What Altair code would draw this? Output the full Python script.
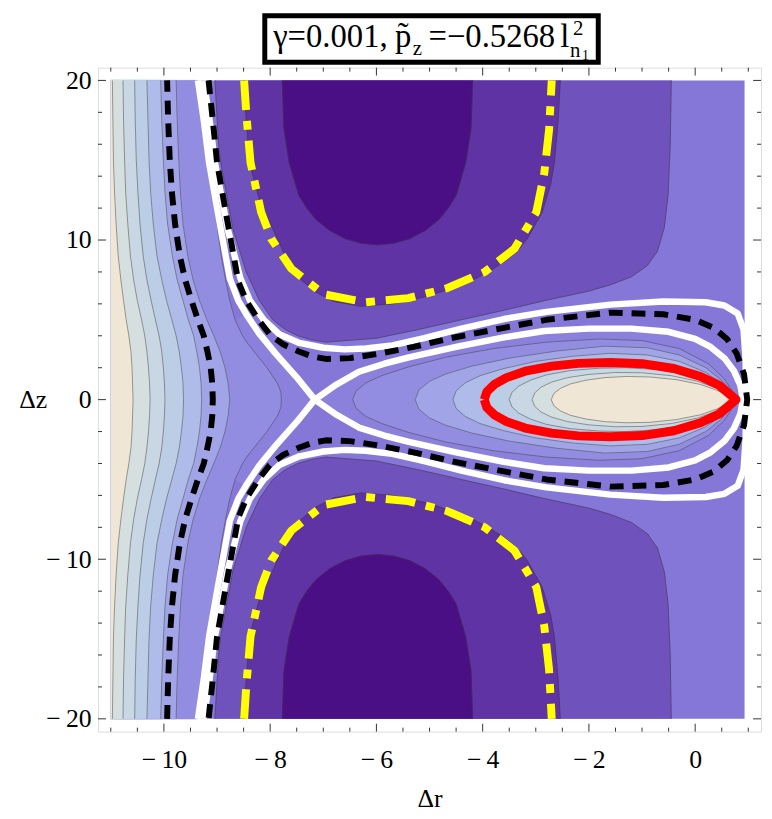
import altair as alt
import pandas as pd

FONT = "Liberation Serif, Times New Roman, DejaVu Serif, serif"
W, H = 670, 671
X_DOMAIN = [-11.24, 1.24]
Y_DOMAIN = [-20.8, 20.8]

# contour level colours (low -> high)
C0 = "#4b0f85"
C1 = "#5f33a4"
C2 = "#7052bd"
C3 = "#8577d8"
C3B = "#8b81dc"
C4 = "#938de2"
C5 = "#a1a5e8"
C6 = "#afbbe9"
C7 = "#bccde6"
C8 = "#c8d7e3"
C9 = "#d6dfe0"
C10 = "#efe6d6"

FILL_R = [-11.0, 0.93]
FILL_Z = [-20.0, 20.0]

X_LABELS = [-10, -8, -6, -4, -2, 0]
X_MINOR = [-11, -10.5, -9.5, -9, -8.5, -7.5, -7, -6.5, -5.5, -5, -4.5, -3.5, -3, -2.5,
           -1.5, -1, -0.5, 0.5, 1]
Y_LABELS = [-20, -10, 0, 10, 20]
Y_MINOR = [-18, -16, -14, -12, -8, -6, -4, -2, 2, 4, 6, 8, 12, 14, 16, 18]

# ---- left-hand contour lines r(z), upper half (mirrored in z)
Z_LEFT = [0, 1, 2, 3, 4, 5, 6.2, 7.5, 9, 11, 13, 15, 17.5, 20]
L10_R = [-10.58, -10.59, -10.60, -10.62, -10.66, -10.71, -10.76, -10.81, -10.86, -10.90, -10.93, -10.95, -10.96, -10.97]
L9_R = [-10.26, -10.27, -10.29, -10.32, -10.36, -10.42, -10.50, -10.57, -10.63, -10.68, -10.72, -10.74, -10.76, -10.77]
L8_R = [-9.98, -9.99, -10.01, -10.04, -10.09, -10.16, -10.24, -10.32, -10.39, -10.45, -10.49, -10.52, -10.54, -10.55]
L7_R = [-9.63, -9.64, -9.67, -9.71, -9.77, -9.85, -9.95, -10.04, -10.13, -10.20, -10.25, -10.28, -10.30, -10.32]
L6_R = [-9.29, -9.30, -9.33, -9.38, -9.44, -9.54, -9.64, -9.75, -9.84, -9.93, -9.98, -10.01, -10.04, -10.06]
D1_R = [-9.08, -9.09, -9.12, -9.18, -9.25, -9.36, -9.48, -9.60, -9.70, -9.79, -9.85, -9.89, -9.92, -9.94]
L5_R = [-8.76, -8.79, -8.85, -8.94, -9.06, -9.19, -9.33, -9.45, -9.55, -9.64, -9.69, -9.72, -9.75, -9.77]
Z_L4 = [0, 0.5, 1, 1.5, 2, 2.5, 3, 3.5, 4, 5, 6.2, 7.5, 9, 11, 13, 15, 17.5, 20]
L4_R = [-7.79, -7.80, -7.86, -7.96, -8.06, -8.18, -8.30, -8.42, -8.52, -8.66, -8.76, -8.84, -8.92, -9.00, -9.08, -9.17, -9.27, -9.38]

# ---- upper regions (closed along z = 20), mirrored for the lower ones
C2_R = [-9.04, -8.97, -8.93, -8.7, -8.45, -8.2, -7.95, -7.72, -7.48, -7.22, -6.95, -6.0, -5.2, -4.34,
        -3.6, -2.84, -2.0, -1.59, -1.2, -0.9, -0.71, -0.58, -0.51, -0.47, -0.45]
C2_Z = [20, 16, 14.85, 10.7, 8, 6.2, 5.0, 4.4, 4.0, 3.75, 3.6, 3.85, 4.4, 5.05,
        5.6, 6.2, 6.8, 7.2, 7.7, 8.4, 9.3, 10.8, 12.8, 16, 20]
C1_R = [-8.5, -8.45, -8.39, -8.2, -7.95, -7.7, -7.45, -7.15, -6.8, -6.3, -5.7, -5.08, -4.6, -4.15,
        -3.85, -3.59, -3.35, -3.16, -2.88, -2.72, -2.65, -2.58, -2.54]
C1_Z = [20, 17.5, 14.85, 12.5, 10.7, 8.9, 7.6, 6.75, 6.15, 5.85, 6.0, 6.45, 6.95, 7.55,
        8.1, 8.65, 9.3, 10.08, 11.75, 13.5, 14.85, 17.5, 20]
C0_R = [-7.77, -7.74, -7.64, -7.46, -7.31, -7.14, -6.88, -6.58, -6.28, -5.98, -5.68, -5.38, -5.08,
        -4.82, -4.65, -4.5, -4.32, -4.22, -4.19]
C0_Z = [20, 17, 14.85, 12.8, 12.0, 11.3, 10.6, 10.08, 9.8, 9.7, 9.8, 10.08, 10.6,
        11.3, 12.0, 12.8, 14.85, 17, 20]

# ---- lobe contours (upper half from left end to right tip)
LOBE1_R = [-6.45, -6.38, -6.2, -5.9, -5.4, -4.7, -3.8, -2.8, -1.8, -1.0, -0.3, 0.25, 0.55, 0.8]
LOBE1_Z = [0, 0.55, 1.05, 1.5, 2.05, 2.65, 3.2, 3.6, 3.8, 3.7, 3.2, 2.25, 1.3, 0]
LOBE2_R = [-5.27, -5.2, -5.0, -4.7, -4.2, -3.5, -2.6, -1.7, -0.9, -0.3, 0.2, 0.5, 0.79]
LOBE2_Z = [0, 0.6, 1.15, 1.6, 2.1, 2.6, 3.05, 3.35, 3.25, 2.8, 2.0, 1.2, 0]
LOBE3_R = [-4.56, -4.5, -4.33, -4.05, -3.6, -3.0, -2.3, -1.6, -0.9, -0.3, 0.2, 0.5, 0.78]
LOBE3_Z = [0, 0.55, 1.05, 1.5, 1.95, 2.4, 2.72, 2.9, 2.8, 2.4, 1.7, 1.0, 0]
RED_R = [-3.97, -3.92, -3.78, -3.55, -3.2, -2.7, -2.2, -1.6, -1.0, -0.4, 0.1, 0.45, 0.77]
RED_Z = [0, 0.5, 0.95, 1.38, 1.78, 2.1, 2.27, 2.33, 2.25, 1.95, 1.45, 0.9, 0]
LOBE4_R = [-3.5, -3.45, -3.32, -3.1, -2.8, -2.35, -1.8, -1.3, -0.7, -0.15, 0.3, 0.55, 0.76]
LOBE4_Z = [0, 0.45, 0.85, 1.22, 1.55, 1.82, 1.97, 2.0, 1.88, 1.55, 1.0, 0.55, 0]
LOBE5_R = [-3.07, -3.02, -2.9, -2.7, -2.4, -2.0, -1.5, -1.0, -0.45, 0.05, 0.4, 0.6, 0.75]
LOBE5_Z = [0, 0.42, 0.78, 1.1, 1.38, 1.58, 1.7, 1.68, 1.5, 1.15, 0.72, 0.38, 0]
LOBE6_R = [-2.71, -2.66, -2.54, -2.35, -2.05, -1.7, -1.3, -0.85, -0.35, 0.1, 0.4, 0.6, 0.72]
LOBE6_Z = [0, 0.38, 0.7, 0.98, 1.22, 1.38, 1.45, 1.42, 1.25, 0.95, 0.6, 0.28, 0]

# ---- highlighted curves
WA_LEFT_R = [-9.36, -9.25, -9.15, -8.93, -8.76, -8.6, -8.45, -8.22, -7.9, -7.5, -7.16]
WA_LEFT_Z = [20, 17.5, 14.85, 10.7, 7.6, 6.2, 5.35, 4.2, 2.9, 1.4, 0]
WA_LOBE_R = [-7.16, -6.75, -6.33, -5.85, -5.39, -4.5, -3.6, -2.84, -2.0, -1.2, -0.5, 0.0, 0.29, 0.55, 0.73, 0.85, 0.9]
WA_LOBE_Z = [0, 0.95, 1.75, 2.25, 2.65, 3.3, 3.9, 4.3, 4.45, 4.45, 4.25, 3.8, 3.3, 2.6, 1.8, 0.9, 0]
WB_R = [-9.25, -9.14, -9.04, -8.8, -8.56, -8.38, -8.12, -7.83, -7.45, -7.0, -6.6, -6.2, -5.7, -5.1,
        -4.4, -3.6, -2.8, -1.6, -0.6, 0.2, 0.55, 0.8, 0.91, 0.95, 0.96]
WB_Z = [20, 17.5, 14.85, 10.7, 7.6, 6.2, 5.0, 4.1, 3.55, 3.25, 3.15, 3.2, 3.4, 3.85,
        4.45, 5.05, 5.5, 5.95, 6.15, 6.1, 5.9, 5.4, 4.4, 2.5, 0]
D2_R = [-9.16, -9.08, -9.0, -8.78, -8.6, -8.45, -8.22, -8.01, -7.75, -7.45, -7.2, -6.95, -6.5, -6.0,
        -5.3, -4.6, -3.6, -2.8, -1.6, -0.6, 0.0, 0.35, 0.6, 0.78, 0.92, 0.98]
D2_Z = [20, 17.5, 14.85, 10.7, 7.4, 6.2, 5.0, 4.1, 3.45, 3.0, 2.7, 2.55, 2.6, 2.85,
        3.3, 3.85, 4.5, 5.0, 5.45, 5.35, 5.0, 4.5, 3.8, 2.9, 1.6, 0]
YEL_R = [-8.49, -8.45, -8.37, -8.17, -7.98, -7.6, -6.99, -6.2, -5.4, -4.67, -3.96, -3.4, -2.99, -2.84, -2.75, -2.7]
YEL_Z = [20, 17.96, 14.85, 11.75, 10.08, 8.2, 6.6, 6.1, 6.36, 6.98, 8.0, 9.46, 11.75, 14.2, 16.9, 20]

# title pieces: (text, x offset from plot left, baseline offset from plot top, font size)
TITLE_PARTS = [
    ("γ=0.001,", 177, -21, 33),
    ("p\u0303", 300, -21, 33),
    ("z", 318, -13, 21),
    ("=\u22120.5268", 334, -21, 33),
    ("l", 467, -21, 33),
    ("2", 480, -33, 21),
    ("n", 477, -11, 21),
    ("1", 489, -8, 14),
]

LABEL_EXPR = "datum.value < 0 ? '\u2212\u2009' + (-datum.value) : '' + datum.value"

XS = alt.Scale(domain=X_DOMAIN, nice=False, zero=False)
YS = alt.Scale(domain=Y_DOMAIN, nice=False, zero=False)
X_AXIS = alt.Axis(title="Δr", values=X_LABELS, labelExpr=LABEL_EXPR, ticks=False, domain=False,
                  grid=False, labelFont=FONT, labelFontSize=26, labelColor="black", labelPadding=15,
                  titleFont=FONT, titleFontSize=26, titleFontWeight="normal", titleColor="black",
                  titleX=W / 2, titleY=68, titleBaseline="middle", titleAlign="center")
Y_AXIS = alt.Axis(title="Δz", values=Y_LABELS, labelExpr=LABEL_EXPR, ticks=False, domain=False,
                  grid=False, labelFont=FONT, labelFontSize=26, labelColor="black", labelPadding=7,
                  titleFont=FONT, titleFontSize=26, titleFontWeight="normal", titleColor="black",
                  titleAngle=0, titleX=-66, titleY=H / 2, titleBaseline="middle", titleAlign="center")


def X(field="r"):
    return alt.X(f"{field}:Q", scale=XS, axis=X_AXIS)


def Y(field="z"):
    return alt.Y(f"{field}:Q", scale=YS, axis=Y_AXIS)


def neg(zs):
    return [-z for z in zs]


def full_left(R, Z):
    return R[::-1] + R[1:], neg(Z[::-1]) + Z[1:]


def closed_lobe(R, Z):
    return R + R[-2::-1], Z + neg(Z[-2::-1])


def through_tip(R, Z):
    return R + R[-2::-1], Z + neg(Z[-2::-1])


def frame(rs, zs):
    return pd.DataFrame({"r": rs, "z": zs, "i": list(range(len(rs)))})


def poly(rs, zs, color):
    return alt.Chart(frame(rs, zs)).mark_line(
        fill=color, stroke=color, strokeWidth=0.8, interpolate="linear"
    ).encode(x=X(), y=Y(), order="i:Q")


def curve(rs, zs, color, width, dash=None, opacity=1.0):
    kw = dict(stroke=color, strokeWidth=width, opacity=opacity, strokeCap="butt",
              strokeJoin="round", interpolate="linear")
    if dash:
        kw["strokeDash"] = dash
    return alt.Chart(frame(rs, zs)).mark_line(**kw).encode(x=X(), y=Y(), order="i:Q")


layers = []
# background level
layers.append(
    alt.Chart(pd.DataFrame({"r0": [FILL_R[0]], "r1": [FILL_R[1]], "z0": [FILL_Z[0]], "z1": [FILL_Z[1]]}))
    .mark_rect(color=C3).encode(x=X("r0"), x2="r1", y=Y("z0"), y2="z1")
)

# saddle level: lobe interior and the patch left of the saddle
wa_loop_r = WA_LOBE_R + WA_LOBE_R[-2::-1]
wa_loop_z = WA_LOBE_Z + neg(WA_LOBE_Z[-2::-1])
layers.append(poly(wa_loop_r, wa_loop_z, C3B))
k0 = WA_LEFT_Z.index(5.35)
j0 = Z_L4.index(5)
patch_r = WA_LEFT_R[k0:] + WA_LEFT_R[-2:k0 - 1:-1] + L4_R[j0:0:-1] + L4_R[:j0 + 1]
patch_z = WA_LEFT_Z[k0:] + neg(WA_LEFT_Z[-2:k0 - 1:-1]) + neg(Z_L4[j0:0:-1]) + Z_L4[:j0 + 1]
layers.append(poly(patch_r, patch_z, C3B))

left_lines = [(L4_R, Z_L4, C4), (L5_R, Z_LEFT, C5), (L6_R, Z_LEFT, C6), (L7_R, Z_LEFT, C7),
              (L8_R, Z_LEFT, C8), (L9_R, Z_LEFT, C9), (L10_R, Z_LEFT, C10)]
gray = []
for R, Z, col in left_lines:
    rs, zs = full_left(R, Z)
    layers.append(poly([FILL_R[0]] + rs + [FILL_R[0]], [FILL_Z[0]] + zs + [FILL_Z[1]], col))
    gray.append((rs, zs))

for R, Z, col in [(C2_R, C2_Z, C2), (C1_R, C1_Z, C1), (C0_R, C0_Z, C0)]:
    layers.append(poly(R, Z, col))
    layers.append(poly(R, neg(Z), col))
    gray.append((R, Z))
    gray.append((R, neg(Z)))

for R, Z, col, g in [(LOBE1_R, LOBE1_Z, C4, True), (LOBE2_R, LOBE2_Z, C5, True),
                     (LOBE3_R, LOBE3_Z, C6, True), (RED_R, RED_Z, C7, False),
                     (LOBE4_R, LOBE4_Z, C8, True), (LOBE5_R, LOBE5_Z, C9, True),
                     (LOBE6_R, LOBE6_Z, C10, True)]:
    rs, zs = closed_lobe(R, Z)
    layers.append(poly(rs, zs, col))
    if g:
        gray.append((rs, zs))

# thin contour lines
rows = []
for k, (rs, zs) in enumerate(gray):
    for i, (r, z) in enumerate(zip(rs, zs)):
        rows.append({"r": r, "z": z, "i": i, "id": k})
layers.append(
    alt.Chart(pd.DataFrame(rows)).mark_line(stroke="#3a3a3a", strokeWidth=0.9, opacity=0.55)
    .encode(x=X(), y=Y(), order="i:Q", detail="id:N")
)

# highlighted level curves
wa_r = WA_LEFT_R + WA_LOBE_R[1:] + WA_LOBE_R[-2::-1] + WA_LEFT_R[-2::-1]
wa_z = WA_LEFT_Z + WA_LOBE_Z[1:] + neg(WA_LOBE_Z[-2::-1]) + neg(WA_LEFT_Z[-2::-1])
layers.append(curve(wa_r, wa_z, "white", 6.5))
wb_r, wb_z = through_tip(WB_R, WB_Z)
layers.append(curve(wb_r, wb_z, "white", 6.5))
d1_r, d1_z = full_left(D1_R, Z_LEFT)
layers.append(curve(d1_r, d1_z, "black", 6, dash=[14, 9]))
d2_r, d2_z = through_tip(D2_R, D2_Z)
layers.append(curve(d2_r, d2_z, "black", 6, dash=[14, 9]))
layers.append(curve(YEL_R, YEL_Z, "#ffff00", 8, dash=[30, 11, 9, 11]))
layers.append(curve(YEL_R, neg(YEL_Z), "#ffff00", 8, dash=[30, 11, 9, 11]))
red_r, red_z = closed_lobe(RED_R, RED_Z)
layers.append(curve(red_r, red_z, "#ff0000", 9))

# inward frame ticks
TICK = "#333333"
for vals, ln in [(X_LABELS, 8), (X_MINOR, 4)]:
    d = pd.DataFrame({"r": vals})
    layers.append(alt.Chart(d).mark_rule(color=TICK, strokeWidth=1).encode(
        x=X(), y=alt.value(H), y2=alt.value(H - ln)))
    layers.append(alt.Chart(d).mark_rule(color=TICK, strokeWidth=1).encode(
        x=X(), y=alt.value(0), y2=alt.value(ln)))
for vals, ln in [(Y_LABELS, 8), (Y_MINOR, 4)]:
    d = pd.DataFrame({"z": vals})
    layers.append(alt.Chart(d).mark_rule(color=TICK, strokeWidth=1).encode(
        y=Y(), x=alt.value(0), x2=alt.value(ln)))
    layers.append(alt.Chart(d).mark_rule(color=TICK, strokeWidth=1).encode(
        y=Y(), x=alt.value(W), x2=alt.value(W - ln)))

# boxed title
layers.append(
    alt.Chart(pd.DataFrame({"a": [0]})).mark_rect(fill="white", stroke="black", strokeWidth=5)
    .encode(x=alt.value(168.5), x2=alt.value(505.5), y=alt.value(-52.5), y2=alt.value(-5.5))
)

for s, x, y, size in TITLE_PARTS:
    layers.append(
        alt.Chart(pd.DataFrame({"t": [s]})).mark_text(
            font=FONT, fontSize=size, align="left", baseline="alphabetic", color="black"
        ).encode(x=alt.value(x), y=alt.value(y), text="t:N")
    )

chart = alt.layer(*layers).properties(
    width=W, height=H,
    autosize=alt.AutoSizeParams(type="none"),
    padding={"left": 91, "top": 56, "right": 3, "bottom": 80},
).configure_view(stroke="black", strokeWidth=1.2).configure(background="white")

chart.save("out.html", embed_options={"renderer": "svg", "actions": False})
